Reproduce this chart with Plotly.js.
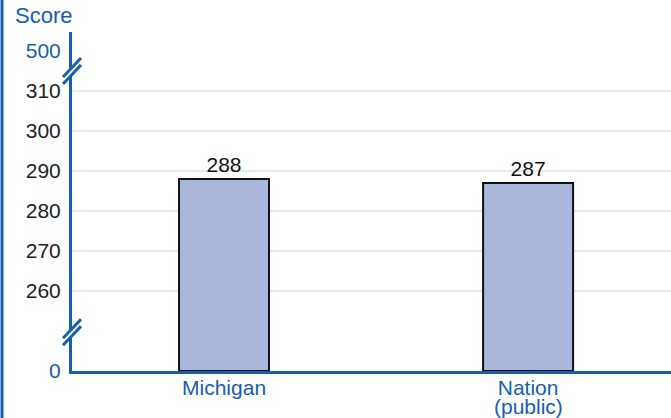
<!DOCTYPE html>
<html><head><meta charset="utf-8">
<script src="https://cdn.plot.ly/plotly-3.0.1.min.js"></script>
<style>html,body{margin:0;padding:0;background:#fff}#chart{width:671px;height:418px}</style>
</head><body><div id="chart"></div>
<script>
const categories = ['Michigan', 'Nation'];
const subLabels = ['', '(public)'];
const scores = [288, 287];
const tickValues = [0, 260, 270, 280, 290, 300, 310, 500];
const gridValues = [260, 270, 280, 290, 300, 310];
const breakPositions = [0.97, 7.5];

const BLUE = '#1560ad';
const FONT = 'Liberation Sans, Arial, sans-serif';
const FS = 21;
// broken scale: 0 | 260..310 | 500
function pos(v){ if (v >= 500) return 8; if (v <= 0) return 0; return 2 + (v - 260) / 10; }

const tickText = tickValues.map(v => (v === 0 || v === 500) ? '<span style="color:' + BLUE + '">' + v + '</span>' : String(v));

const shapes = [];
gridValues.forEach(v => shapes.push({type:'line', xref:'paper', yref:'y', x0:0, x1:1, y0:pos(v), y1:pos(v), line:{color:'#d3d3d3', width:1}, layer:'below'}));
breakPositions.forEach(p => {
  shapes.push({type:'line', xref:'paper', xsizemode:'pixel', xanchor:0, yref:'y', ysizemode:'pixel', yanchor:p, x0:-4, x1:4, y0:-4, y1:4, line:{color:'#ffffff', width:6}});
  shapes.push({type:'line', xref:'paper', xsizemode:'pixel', xanchor:0, yref:'y', ysizemode:'pixel', yanchor:p, x0:-9, x1:9, y0:-13, y1:6, line:{color:BLUE, width:3}});
  shapes.push({type:'line', xref:'paper', xsizemode:'pixel', xanchor:0, yref:'y', ysizemode:'pixel', yanchor:p, x0:-9, x1:9, y0:-6, y1:13, line:{color:BLUE, width:3}});
});
// left border line of the page
shapes.push({type:'line', xref:'paper', xsizemode:'pixel', xanchor:0, x0:-70, x1:-70, yref:'paper', y0:-0.3, y1:1.3, line:{color:BLUE, width:3}});

const trace = {
  type:'bar', x:[0,1], y:scores.map(pos), width:0.296,
  text:scores.map(String), textposition:'outside', cliponaxis:false,
  textfont:{family:FONT, size:FS, color:'#111'},
  marker:{color:'#aab6db', line:{color:'#111', width:2}},
  hoverinfo:'none'
};

const annotations = [{text:'Score', xref:'paper', yref:'paper', x:0, y:1, xshift:-29, yshift:2, xanchor:'center', yanchor:'bottom', showarrow:false, font:{color:BLUE, size:22}}];
subLabels.forEach((s, i) => { if (s) annotations.push({text:s, xref:'x', yref:'paper', x:i, y:0, yshift:-35, xanchor:'center', yanchor:'middle', showarrow:false, font:{color:BLUE, size:FS}}); });

const layout = {
  width:671, height:418,
  margin:{l:72, r:0, t:32, b:47},
  paper_bgcolor:'#fff', plot_bgcolor:'#fff',
  showlegend:false,
  font:{family:FONT, size:FS, color:'#222'},
  xaxis:{range:[-0.5,1.47], tickvals:[0,1], ticktext:categories, showgrid:false, zeroline:false,
    showline:true, linecolor:BLUE, linewidth:3, ticks:'', ticklabelstandoff:-4, tickfont:{color:BLUE, size:FS}, fixedrange:true},
  yaxis:{range:[0,8.475], tickvals:tickValues.map(pos), ticktext:tickText, showgrid:false, zeroline:false,
    showline:true, linecolor:BLUE, linewidth:3, ticks:'outside', ticklen:4, tickcolor:'rgba(0,0,0,0)',
    tickfont:{color:'#222', size:FS}, fixedrange:true},
  shapes:shapes,
  annotations:annotations
};
Plotly.newPlot('chart', [trace], layout, {displayModeBar:false, staticPlot:true});
</script></body></html>
